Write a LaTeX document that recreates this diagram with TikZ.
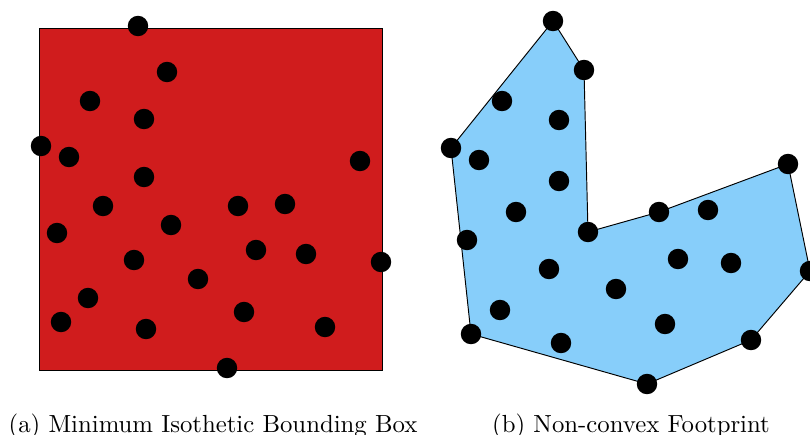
\documentclass[tikz,border=0pt]{standalone}
\usepackage{amsmath}
\usepackage{tikz}

\definecolor{boxred}{RGB}{208,28,29}
\definecolor{hullblue}{RGB}{135,206,250}

\begin{document}
\begin{tikzpicture}[x=0.42pt, y=-0.42pt, pt/.style={circle, fill=black, minimum size=8.6pt, inner sep=0pt}, subcap/.style={anchor=base, inner sep=0pt, font=\fontsize{10.4}{12}\selectfont}]
      \useasboundingbox (0,0) rectangle (810,434);
      % (a) bounding box
      \coordinate (bl) at (39,370);
      \coordinate (tr) at (382,28);
      \draw[fill=boxred] (bl) rectangle (tr);
      \foreach \x/\y [count=\i] in {138/26, 167/72, 90/101, 144/119, 41/146, 69/157, 360/161, 144/177, 103/206, 238/206, 285/204, 57/233, 171/225, 256/250, 306/254, 134/260, 381/262, 198/279, 88/298, 61/322, 146/329, 244/312, 325/327, 227/368}
        \node[pt] (a\i) at (\x,\y) {};
      \node[subcap] (capa) at (213,432) {(a) Minimum Isothetic Bounding Box};
      % (b) footprint
      \foreach \x/\y [count=\i] in {451/148, 553/21, 584/70, 588/232, 659/212, 788/164, 810/271, 751/340, 647/384, 471/334}
        \coordinate (h\i) at (\x,\y);
      \draw[fill=hullblue] (h1) -- (h2) -- (h3) -- (h4) -- (h5) -- (h6) -- (h7) -- (h8) -- (h9) -- (h10) -- cycle;
      \foreach \i in {1,...,10}
        \node[pt] (b\i) at (h\i) {};
      \foreach \x/\y [count=\i] in {502/101, 559/120, 479/160, 559/181, 516/212, 708/210, 467/240, 549/269, 678/259, 731/263, 616/289, 500/310, 665/324, 561/343}
        \node[pt] (c\i) at (\x,\y) {};
      \node[subcap] (capb) at (631,432) {(b) Non-convex Footprint};
    \end{tikzpicture}
\end{document}
